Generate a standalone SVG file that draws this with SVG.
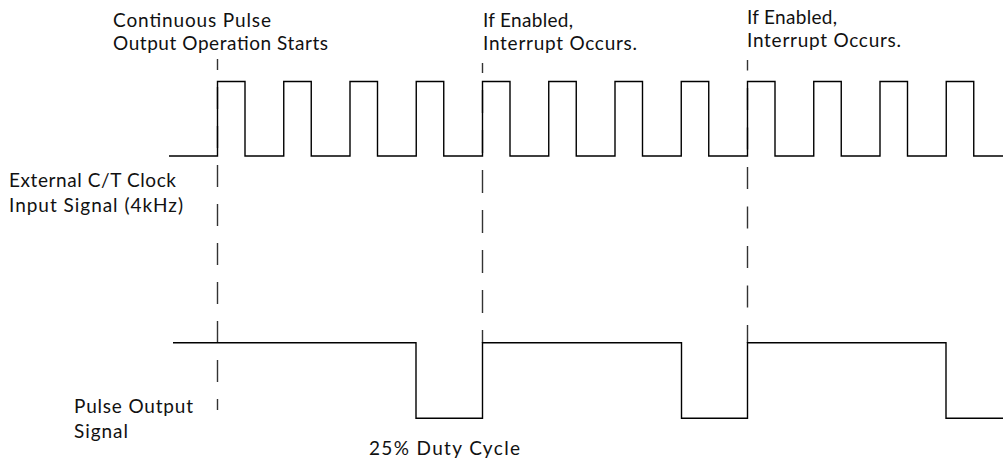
<svg xmlns="http://www.w3.org/2000/svg" width="1003" height="463" viewBox="0 0 1003 463">
<style>
.sig{fill:none;stroke:#000;stroke-width:1.4}
.dash{fill:none;stroke:#333;stroke-width:1.4}
text{font-family:Lato,"Liberation Sans",sans-serif;font-size:19px;fill:#111}
</style>
<rect width="1003" height="463" fill="#fff"/>
<g id="connectors">
<line class="dash" x1="217.5" y1="59" x2="217.5" y2="410" stroke-dasharray="22 17" stroke-dashoffset="11"/>
<line class="dash" x1="482.5" y1="63" x2="482.5" y2="343" stroke-dasharray="23 17" stroke-dashoffset="13"/>
<line class="dash" x1="747.5" y1="60" x2="747.5" y2="343" stroke-dasharray="22 17.5" stroke-dashoffset="11.5"/>
</g>
<g id="clock-signal">
<path class="sig" d="M169,156 H217.5 V81.5 H245 V156 H283.75 V81.5 H311.25 V156 H350 V81.5 H377.5 V156 H416.25 V81.5 H443.75 V156 H482.5 V81.5 H510 V156 H548.75 V81.5 H576.25 V156 H615 V81.5 H642.5 V156 H681.25 V81.5 H708.75 V156 H747.5 V81.5 H775 V156 H813.75 V81.5 H841.25 V156 H880 V81.5 H907.5 V156 H946.25 V81.5 H973.75 V156 H1003"/>
</g>
<g id="pulse-output">
<path class="sig" d="M173,342.7 H416 V418.3 H482.5 V342.7 H681.5 V418.3 H747.5 V342.7 H946 V418.3 H1003"/>
</g>
<g id="label-start">
<text x="113" y="27" textLength="158">Continuous Pulse</text>
<text x="113" y="50" textLength="215">Output Operation Starts</text>
</g>
<g id="label-interrupt-1">
<text x="483" y="27" textLength="90">If Enabled,</text>
<text x="483" y="50" textLength="154">Interrupt Occurs.</text>
</g>
<g id="label-interrupt-2">
<text x="747" y="24" textLength="90">If Enabled,</text>
<text x="747" y="47" textLength="154">Interrupt Occurs.</text>
</g>
<g id="label-clock">
<text x="9" y="187" textLength="167">External C/T Clock</text>
<text x="9" y="212" textLength="174">Input Signal (4kHz)</text>
</g>
<g id="label-pulse">
<text x="74" y="413" textLength="119">Pulse Output</text>
<text x="74" y="438" textLength="54">Signal</text>
</g>
<g id="label-duty">
<text x="369" y="455" textLength="151">25% Duty Cycle</text>
</g>
</svg>
